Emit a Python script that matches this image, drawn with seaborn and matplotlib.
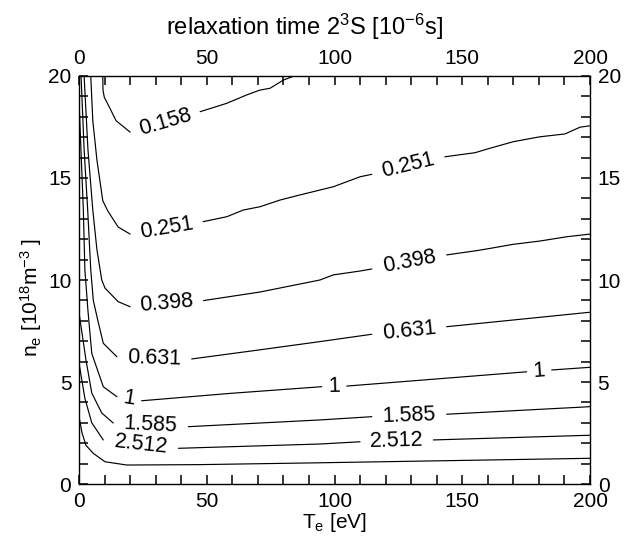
import numpy as np
import matplotlib
matplotlib.use("Agg")
import matplotlib.pyplot as plt
import seaborn as sns

nan = np.nan

# contour levels (relaxation time, 1e-6 s); NaN marks a gap where the label sits
levels = ["0.158", "0.251", "0.398", "0.631", "1", "1.585", "2.512", "3.981"]
labelled = [True, True, True, True, True, True, True, False]

c0158_T = [9.3, 9.4, 9.9, 11.9, 14.5, 20.0, nan, 47.4, 57.8, 65.6, 70.8, 74.8, 80.0, 85.2]
c0158_n = [20.0, 19.3, 18.96, 18.47, 17.81, 17.25, nan, 18.25, 18.66, 19.07, 19.31, 19.40, 19.80, 20.05]

c0251_T = [4.6, 5.4, 7.0, 9.3, 11.2, 15.3, 20.0, nan, 48.6, 57.8, 64.3, 70.8, 78.7, 86.5, 99.5,
           110.0, 114.6, nan, 143.2, 155.0, 160.9, 170.0, 180.4, 190.2, 196.1, 200.0]
c0251_n = [20.0, 17.81, 15.9, 13.89, 13.4, 12.6, 12.25, nan, 12.86, 13.1, 13.43, 13.59, 13.92, 14.17, 14.57,
           15.06, 15.18, nan, 16.04, 16.24, 16.46, 16.78, 17.02, 17.16, 17.49, 17.56]

c0398_T = [2.0, 3.5, 5.4, 7.0, 8.9, 10.2, 15.3, 20.0, nan, 48.7, 70.8, 94.3, 99.5, 110.0, 114.6, nan,
           143.9, 155.7, 160.9, 170.0, 180.4, 190.9, 200.0]
c0398_n = [20.0, 16.4, 13.43, 11.5, 10.0, 9.6, 8.94, 8.69, nan, 8.99, 9.41, 10.0, 10.25, 10.44, 10.54, nan,
           11.23, 11.44, 11.55, 11.75, 11.91, 12.12, 12.25]

c0631_T = [0.8, 2.0, 3.4, 4.6, 5.6, 7.4, 9.5, 14.8, nan, 44.1, 69.2, 94.3, 114.6, nan, 143.9, 200.0]
c0631_n = [20.0, 16.4, 13.43, 10.5, 9.0, 8.0, 6.9, 6.24, nan, 6.13, 6.55, 6.98, 7.34, nan, 7.71, 8.42]

c1_T = [0.0, 1.7, 2.3, 3.5, 5.0, 9.5, 14.8, nan, 24.5, 59.0, 95.0, nan, 104.8, 175.2, nan, 185.0, 200.0]
c1_n = [18.8, 13.43, 10.5, 8.5, 6.4, 4.77, 4.28, nan, 4.08, 4.44, 4.77, nan, 4.8, 5.5, nan, 5.59, 5.72]

c1585_T = [0.0, 2.7, 5.0, 8.9, 13.4, nan, 42.8, 94.3, 114.6, nan, 143.9, 200.0]
c1585_n = [8.4, 6.1, 4.46, 3.48, 2.99, nan, 2.81, 3.14, 3.3, nan, 3.42, 3.79]

c2512_T = [0.0, 2.3, 5.0, 9.5, nan, 38.9, 94.3, 110.0, nan, 138.7, 200.0]
c2512_n = [5.93, 4.2, 3.0, 2.16, nan, 1.75, 1.96, 2.07, nan, 2.16, 2.39]

c3981_T = [0.0, 1.2, 2.7, 5.6, 10.2, 18.7, 47.4, 94.3, 200.0]
c3981_n = [3.3, 2.5, 1.9, 1.5, 1.09, 0.93, 0.95, 1.04, 1.26]

contours_T = [c0158_T, c0251_T, c0398_T, c0631_T, c1_T, c1585_T, c2512_T, c3981_T]
contours_n = [c0158_n, c0251_n, c0398_n, c0631_n, c1_n, c1585_n, c2512_n, c3981_n]

x_ticks = [0, 50, 100, 150, 200]
y_ticks = [0, 5, 10, 15, 20]
x_minor = [0, 10, 20, 30, 40, 50, 60, 70, 80, 90, 100, 110, 120, 130, 140, 150, 160, 170, 180, 190, 200]
y_minor = list(range(0, 21))

title = r"relaxation time 2$^{3}$S [10$^{-6}$s]"
xlabel = r"T$_{e}$ [eV]"
ylabel = r"n$_{e}$ [10$^{18}$m$^{-3}$ ]"

sns.set_style("ticks")
plt.rcParams["font.family"] = ["Liberation Sans", "DejaVu Sans"]
plt.rcParams["mathtext.fontset"] = "custom"
plt.rcParams["mathtext.rm"] = "Liberation Sans"
plt.rcParams["mathtext.it"] = "Liberation Sans"
plt.rcParams["mathtext.default"] = "regular"
plt.rcParams["axes.axisbelow"] = False
for k in ["text.color", "axes.labelcolor", "xtick.color", "ytick.color", "axes.edgecolor"]:
    plt.rcParams[k] = "black"

fig = plt.figure(figsize=(6.32, 5.39), dpi=100)
W, H = 632, 539
ax = fig.add_axes([79 / W, (H - 484) / H, 511 / W, 408 / H])
ax.set_xlim(0, 200)
ax.set_ylim(0, 20)

def split_pieces(T, n):
    pieces, cur = [], []
    for t, v in zip(T, n):
        if np.isnan(t):
            pieces.append(cur)
            cur = []
        else:
            cur.append((t, v))
    pieces.append(cur)
    return pieces

for lev, lab, T, n in zip(levels, labelled, contours_T, contours_n):
    pieces = split_pieces(T, n)
    for p in pieces:
        xs = [q[0] for q in p]
        ys = [q[1] for q in p]
        sns.lineplot(x=xs, y=ys, sort=False, estimator=None, color="black",
                     linewidth=0.85, ax=ax)
    if lab:
        for a, b in zip(pieces[:-1], pieces[1:]):
            p0 = a[-1]
            p1 = b[0]
            d0 = ax.transData.transform(p0)
            d1 = ax.transData.transform(p1)
            ang = np.degrees(np.arctan2(d1[1] - d0[1], d1[0] - d0[0]))
            mid = ((p0[0] + p1[0]) / 2, (p0[1] + p1[1]) / 2)
            ax.text(mid[0], mid[1], lev, rotation=ang, rotation_mode="anchor",
                    ha="center", va="center", fontsize=15.5, color="black")

ax.set_xticks(x_ticks)
ax.set_yticks(y_ticks)
ax.set_xticks(x_minor, minor=True)
ax.set_yticks(y_minor, minor=True)
ax.tick_params(axis="both", which="both", direction="in", length=6.5, width=1.1,
               labelsize=15, colors="black",
               bottom=True, left=True, top=True, right=True,
               labelbottom=True, labelleft=True, labeltop=True, labelright=True)
ax.tick_params(axis="x", which="both", pad=5.5)
ax.tick_params(axis="y", which="both", pad=5.5)

for s in ax.spines.values():
    s.set_visible(True)
    s.set_linewidth(1.0)
    s.set_color("black")

ax.set_xlabel(xlabel, fontsize=15)
ax.xaxis.set_label_coords(0.5, -0.066)
ax.set_ylabel(ylabel, fontsize=15)
ax.yaxis.set_label_coords(-0.068, 0.458)

fig.text(304 / W, 1 - 35 / H, title, ha="center", va="baseline", fontsize=17)

fig.savefig("out.png", dpi=100)
